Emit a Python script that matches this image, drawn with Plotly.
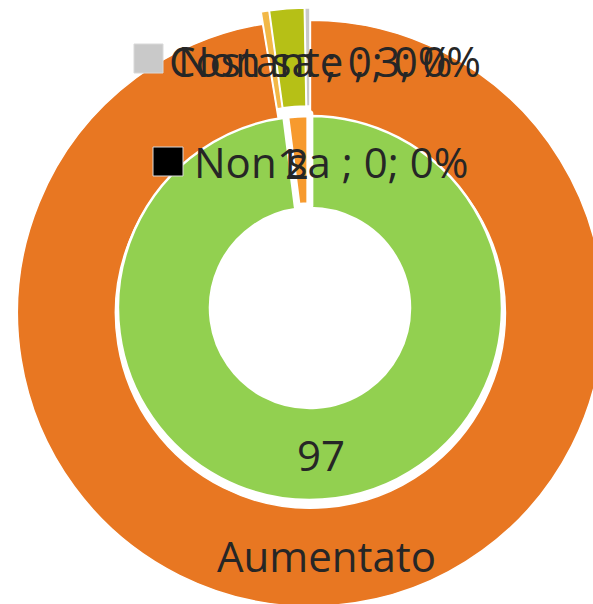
import plotly.graph_objects as go

# ---- data ----
outer_labels = ["Aumentato", "Diminuito", "Costante", "Non sa"]
outer_values = [97.4, 0.43, 1.9, 0.28]
outer_colors = ["#E87722", "#F2B847", "#B6C016", "#C9C9C9"]

inner_labels = ["Sì", "No", "Non sa"]
inner_values = [97, 2, 0]
inner_colors = ["#92D050", "#F79A2E", "#000000"]

label_texts = ["Non sa ; 0; 0%", "Costante ; 3; 0%", "Non sa ; 0; 0%"]

W, H = 620, 620
CX, CY = 310, 308


def dom(cx, cy, half):
    x0, x1 = max(0, (cx - half) / W), min(1, (cx + half) / W)
    y0, y1 = max(0, 1 - (cy + half) / H), min(1, 1 - (cy - half) / H)
    return dict(x=[x0, x1], y=[y0, y1])


R_OUT = 293
outer_pull = [0.018, 0.024, 0.024, 0.024]
R_IN = 192
inner_pull = [0.0, 0.012, 0.0]

fig = go.Figure()
fig.add_trace(go.Pie(
    labels=outer_labels, values=outer_values, sort=False,
    direction="clockwise", rotation=0, hole=195 / R_OUT,
    pull=outer_pull, textinfo="none", hoverinfo="label+value",
    marker=dict(colors=outer_colors, line=dict(color="white", width=1.5)),
    domain=dom(CX, CY, R_OUT * (1 + max(outer_pull))), showlegend=False,
))
fig.add_trace(go.Pie(
    labels=inner_labels, values=inner_values, sort=False,
    direction="clockwise", rotation=0, hole=100 / R_IN,
    pull=inner_pull, textinfo="none", hoverinfo="label+value",
    marker=dict(colors=inner_colors, line=dict(color="white", width=[2.5, 7, 1])),
    domain=dom(CX, CY, R_IN * (1 + max(inner_pull))), showlegend=False,
))


def px(x):
    return x / W


def py(y):
    return 1 - y / H


FONT = dict(family="Open Sans", size=42, color="#262626")
ann = []
ann.append(dict(x=px(326), y=py(555.5), text="Aumentato", xanchor="center", yanchor="middle"))
ann.append(dict(x=px(321), y=py(454.5), text=str(inner_values[0]), xanchor="center", yanchor="middle"))
ann.append(dict(x=px(289), y=py(162.5), text="1", xanchor="center", yanchor="middle"))
ann.append(dict(x=px(297), y=py(162.5), text=str(inner_values[1]), xanchor="center", yanchor="middle"))
ann.append(dict(x=px(176), y=py(60), text=label_texts[0], xanchor="left", yanchor="middle"))
ann.append(dict(x=px(483), y=py(60), text=label_texts[1], xanchor="right", yanchor="middle"))
ann.append(dict(x=px(192), y=py(161), text=label_texts[2], xanchor="left", yanchor="middle"))
for a in ann:
    a.update(xref="paper", yref="paper", showarrow=False, font=FONT)

shapes = [
    dict(type="rect", x0=px(134), x1=px(163), y0=py(73), y1=py(44),
         fillcolor="#C9C9C9", line=dict(color="#D9D9D9", width=1)),
    dict(type="rect", x0=px(153), x1=px(183), y0=py(176), y1=py(147),
         fillcolor="#000000", line=dict(color="#D9D9D9", width=1)),
]
for s in shapes:
    s.update(xref="paper", yref="paper")

fig.update_layout(
    width=W, height=H, autosize=False,
    margin=dict(l=0, r=0, t=0, b=0),
    paper_bgcolor="white", plot_bgcolor="white",
    annotations=ann, shapes=shapes, showlegend=False,
)

fig.write_html(
    "out.html",
    config={"displayModeBar": False},
    post_script="document.documentElement.style.overflow='hidden';"
                "document.body.style.margin='0';document.body.style.overflow='hidden';",
)
